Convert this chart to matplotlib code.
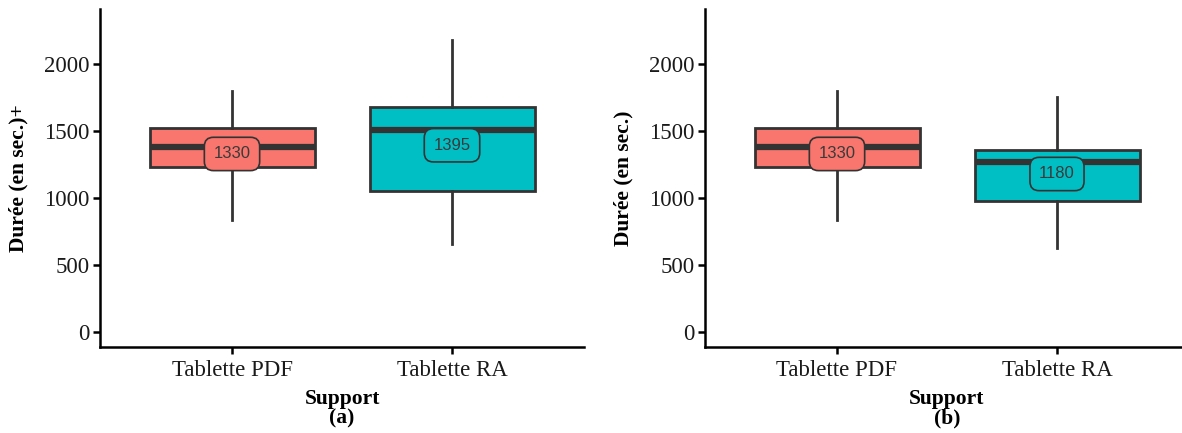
import matplotlib
matplotlib.use("Agg")
import matplotlib.pyplot as plt

categories = ["Tablette PDF", "Tablette RA"]
colors = ["#F8766D", "#00BFC4"]

# panel (a)
a_whislo = [835, 655]
a_q1 = [1230, 1050]
a_med = [1380, 1510]
a_q3 = [1525, 1680]
a_whishi = [1800, 2180]
a_mean = [1330, 1395]

# panel (b)
b_whislo = [835, 625]
b_q1 = [1230, 975]
b_med = [1380, 1270]
b_q3 = [1525, 1358]
b_whishi = [1800, 1760]
b_mean = [1330, 1180]

plt.rcParams['font.family'] = ['Liberation Serif', 'DejaVu Serif']

fig = plt.figure(figsize=(11.82, 4.33), dpi=100)
W, H = 1182, 433
axw = 484 / W
axb = (433 - 347) / H
axh = (347 - 9) / H
ax1 = fig.add_axes([100 / W, axb, axw, axh])
ax2 = fig.add_axes([705 / W, axb, axw, axh])

def panel(ax, whislo, q1, med, q3, whishi, means, ylabel, tag):
    stats = []
    for i in range(len(categories)):
        stats.append(dict(whislo=whislo[i], q1=q1[i], med=med[i], q3=q3[i],
                          whishi=whishi[i], fliers=[]))
    bp = ax.bxp(stats, positions=range(1, len(categories) + 1), widths=0.75,
                patch_artist=True, showcaps=False, showfliers=False,
                boxprops=dict(edgecolor="#333333", linewidth=2),
                whiskerprops=dict(color="#333333", linewidth=2),
                medianprops=dict(color="#333333", linewidth=4.5, solid_capstyle="butt"))
    for patch, c in zip(bp["boxes"], colors):
        patch.set_facecolor(c)
    for i, m in enumerate(means):
        ax.text(i + 1, m, f"{m}", ha="center", va="center", fontsize=12,
                family=["Liberation Sans", "DejaVu Sans"], color="#3a3a3a",
                bbox=dict(boxstyle="round,pad=0.55,rounding_size=0.55",
                          facecolor=colors[i], edgecolor="#333333", linewidth=1.2),
                zorder=5)
    ax.set_xlim(0.4, 2.6)
    ax.set_ylim(-115, 2415)
    ax.set_yticks([0, 500, 1000, 1500, 2000])
    ax.set_xticks([1, 2])
    ax.set_xticklabels(categories)
    for s in ["top", "right"]:
        ax.spines[s].set_visible(False)
    for s in ["left", "bottom"]:
        ax.spines[s].set_linewidth(1.8)
        ax.spines[s].set_color("black")
    ax.tick_params(axis="both", direction="out", length=5, width=1.8,
                   labelsize=16.5, colors="black", labelcolor="#1a1a1a", pad=2.5)
    ax.tick_params(axis="x", pad=4)
    ax.set_ylabel(ylabel, fontsize=15.5, fontweight="bold", labelpad=11)
    ax.set_xlabel("Support\n(" + tag + ")", fontsize=15.5, fontweight="bold",
                  linespacing=1.0, labelpad=6)

panel(ax1, a_whislo, a_q1, a_med, a_q3, a_whishi, a_mean, "Durée (en sec.)+", "a")
panel(ax2, b_whislo, b_q1, b_med, b_q3, b_whishi, b_mean, "Durée (en sec.)", "b")

fig.savefig("out.png", dpi=100)
